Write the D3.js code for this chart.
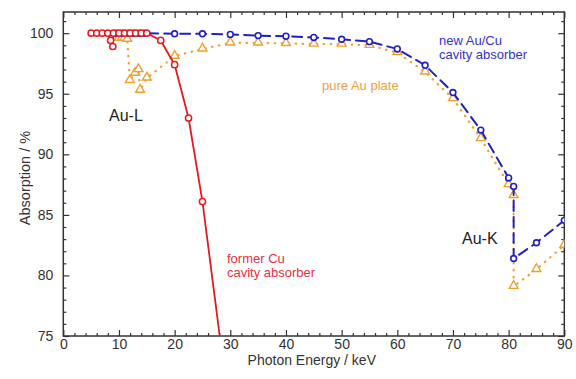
<!DOCTYPE html>
<html>
<head>
<meta charset="utf-8">
<script src="https://cdn.jsdelivr.net/npm/d3@7"></script>
<style>
  html, body { margin: 0; padding: 0; background: #fff; }
  svg { display: block; font-family: "Liberation Sans", Arial, sans-serif; }
</style>
</head>
<body>
<svg id="chart" width="576" height="379"></svg>
<script>
// Photon energy (keV) and absorption (%) for the three absorbers
const formerCuX = [5, 6, 7, 8, 8.5, 8.9, 9, 10, 11, 12, 13, 14, 15, 17.5, 20, 22.5, 25, 30];
const formerCuY = [100, 100, 100, 100, 99.4, 98.9, 100, 100, 100, 100, 100, 100, 100, 99.4, 97.4, 93.0, 86.1, 68.2];

const newAuCuX = [9.5, 10.6, 11.7, 12.6, 13.6, 14.5, 20, 25, 30, 35, 40, 45, 50, 55, 60, 65, 70, 75, 80, 80.9, 80.9, 85, 90];
const newAuCuY = [100, 100, 100, 100, 100, 100, 99.95, 99.95, 99.9, 99.8, 99.75, 99.65, 99.5, 99.3, 98.7, 97.35, 95.1, 92.0, 88.05, 87.35, 81.4, 82.7, 84.55];

const pureAuX = [9.5, 10, 10.5, 11, 11.5, 11.95, 12.9, 13.5, 13.8, 15, 20, 25, 30, 35, 40, 45, 50, 55, 60, 65, 70, 75, 80, 80.9, 80.9, 85, 90];
const pureAuY = [99.6, 99.6, 99.6, 99.6, 99.5, 96.1, 96.7, 97.0, 95.3, 96.3, 98.1, 98.7, 99.2, 99.2, 99.15, 99.1, 99.1, 99.0, 98.4, 96.8, 94.6, 91.3, 87.5, 86.6, 79.1, 80.5, 82.5];

const xTicks = [0, 10, 20, 30, 40, 50, 60, 70, 80, 90];
const yTicks = [75, 80, 85, 90, 95, 100];

const svg = d3.select("#chart");
const padL = 63.3, padR = 564.3, padT = 12, padB = 336;

const x = d3.scaleLinear().domain([0, 90]).range([padL, padR]);
const y = d3.scaleLinear().domain([75, 101.75]).range([padB, padT]);

const axisColor = "#333";
const red = "#e51a1f", blue = "#2020c8", orange = "#f0a030";

// clip region for the data
svg.append("defs").append("clipPath").attr("id", "plot-clip")
  .append("rect").attr("x", padL).attr("y", padT)
  .attr("width", padR - padL).attr("height", padB - padT);

// frame with inward ticks on all four sides
const xMinor = d3.range(0, 91, 2).filter(v => v % 10 !== 0);
const yMinor = d3.range(75, 102, 1).filter(v => v % 5 !== 0);

function styleAxis(g) {
  g.selectAll("path").remove();
  g.selectAll("line").attr("stroke", axisColor).attr("stroke-width", 1.2);
  g.selectAll("text").attr("fill", "#333").attr("font-size", 14)
    .attr("font-family", "Liberation Sans, Arial, sans-serif");
}

svg.append("g").attr("transform", `translate(0,${padB})`)
  .call(d3.axisBottom(x).tickValues(xTicks).tickSize(-6).tickPadding(3).tickFormat(d3.format("d")))
  .call(styleAxis);
svg.append("g").attr("transform", `translate(0,${padB})`)
  .call(d3.axisBottom(x).tickValues(xMinor).tickSize(-3).tickFormat(""))
  .call(styleAxis);
svg.append("g").attr("transform", `translate(0,${padT})`)
  .call(d3.axisTop(x).tickValues(xTicks).tickSize(-6).tickFormat(""))
  .call(styleAxis);
svg.append("g").attr("transform", `translate(0,${padT})`)
  .call(d3.axisTop(x).tickValues(xMinor).tickSize(-3).tickFormat(""))
  .call(styleAxis);

svg.append("g").attr("transform", `translate(${padL},0)`)
  .call(d3.axisLeft(y).tickValues(yTicks).tickSize(-6).tickPadding(10).tickFormat(d3.format("d")))
  .call(styleAxis);
svg.append("g").attr("transform", `translate(${padL},0)`)
  .call(d3.axisLeft(y).tickValues(yMinor).tickSize(-3).tickFormat(""))
  .call(styleAxis);
svg.append("g").attr("transform", `translate(${padR},0)`)
  .call(d3.axisRight(y).tickValues(yTicks).tickSize(-6).tickFormat(""))
  .call(styleAxis);
svg.append("g").attr("transform", `translate(${padR},0)`)
  .call(d3.axisRight(y).tickValues(yMinor).tickSize(-3).tickFormat(""))
  .call(styleAxis);

svg.append("rect").attr("x", padL).attr("y", padT)
  .attr("width", padR - padL).attr("height", padB - padT)
  .attr("fill", "none").attr("stroke", axisColor).attr("stroke-width", 1.5);

// axis titles
svg.append("text").attr("x", (padL + padR) / 2 - 2).attr("y", 365)
  .attr("text-anchor", "middle").attr("font-size", 14).attr("fill", "#333")
  .text("Photon Energy / keV");
svg.append("text").attr("transform", `translate(30,${(padT + padB) / 2 + 4}) rotate(-90)`)
  .attr("text-anchor", "middle").attr("font-size", 14.5).attr("fill", "#333")
  .text("Absorption / %");

const plot = svg.append("g").attr("clip-path", "url(#plot-clip)");
const line = d3.line().x(d => x(d[0])).y(d => y(d[1]));

function series(xs, ys, color, dash, width) {
  const pts = xs.map((v, i) => [v, ys[i]]);
  plot.append("path").datum(pts).attr("d", line)
    .attr("fill", "none").attr("stroke", color).attr("stroke-width", width)
    .attr("stroke-dasharray", dash).attr("stroke-linecap", "round");
  return pts;
}

// pure Au plate: dotted line with open triangles
const auPts = series(pureAuX, pureAuY, orange, "0.5,6.5", 2.2);
const tri = d3.symbol().type(d3.symbolTriangle).size(34);
plot.selectAll(".tri").data(auPts).join("path")
  .attr("transform", d => `translate(${x(d[0])},${y(d[1]) - 0.5})`)
  .attr("d", tri).attr("fill", "#fff").attr("stroke", orange).attr("stroke-width", 1.4);

// new Au/Cu cavity absorber: dashed line with open circles
const newPts = series(newAuCuX, newAuCuY, blue, "10,6", 2);
plot.selectAll(".bc").data(newPts).join("circle")
  .attr("cx", d => x(d[0])).attr("cy", d => y(d[1])).attr("r", 2.9)
  .attr("fill", "#fff").attr("stroke", blue).attr("stroke-width", 1.6);

// former Cu cavity absorber: solid line with open circles
const cuPts = series(formerCuX, formerCuY, red, null, 1.8);
plot.selectAll(".rc").data(cuPts).join("circle")
  .attr("cx", d => x(d[0])).attr("cy", d => y(d[1])).attr("r", 3.1)
  .attr("fill", "#fff").attr("stroke", red).attr("stroke-width", 1.5);

// annotations
function label(lines, xp, yp, color, size, anchor) {
  const t = svg.append("text").attr("x", xp).attr("y", yp)
    .attr("fill", color).attr("font-size", size).attr("text-anchor", anchor || "start");
  lines.forEach((s, i) => t.append("tspan").attr("x", xp).attr("dy", i ? size * 1.08 : 0).text(s));
}
label(["Au-L"], 109, 121, "#222", 16);
label(["pure Au plate"], 322, 90, "#f0a040", 13);
label(["new Au/Cu", "cavity absorber"], 439, 45, "#3333cc", 13);
label(["Au-K"], 462, 244, "#222", 16);
label(["former Cu", "cavity absorber"], 227, 263, "#e83040", 13);
</script>
</body>
</html>
